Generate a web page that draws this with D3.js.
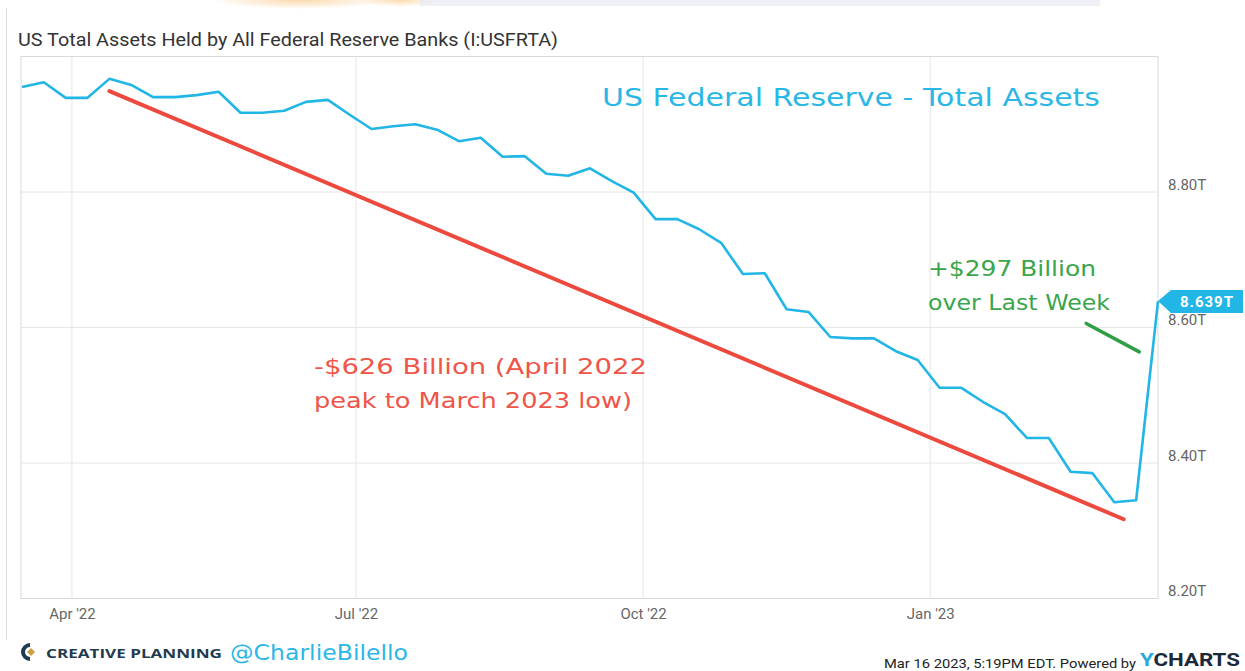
<!DOCTYPE html>
<html>
<head>
<meta charset="utf-8">
<script src="https://cdn.jsdelivr.net/npm/d3@7"></script>
<style>
  body { margin: 0; background: #fff; }
  svg { display: block; }
</style>
</head>
<body>
<svg width="1245" height="671"></svg>
<script>
// weekly Wednesday readings (H.4.1), trillions
const dates = ["2022-03-16","2022-03-23","2022-03-30","2022-04-06","2022-04-13","2022-04-20","2022-04-27",
  "2022-05-04","2022-05-11","2022-05-18","2022-05-25","2022-06-01","2022-06-08","2022-06-15","2022-06-22","2022-06-29",
  "2022-07-06","2022-07-13","2022-07-20","2022-07-27","2022-08-03","2022-08-10","2022-08-17","2022-08-24","2022-08-31",
  "2022-09-07","2022-09-14","2022-09-21","2022-09-28","2022-10-05","2022-10-12","2022-10-19","2022-10-26",
  "2022-11-02","2022-11-09","2022-11-16","2022-11-23","2022-11-30","2022-12-07","2022-12-14","2022-12-21","2022-12-28",
  "2023-01-04","2023-01-11","2023-01-18","2023-01-25","2023-02-01","2023-02-08","2023-02-15","2023-02-22",
  "2023-03-01","2023-03-08","2023-03-15"]
const assets = [8.955, 8.962, 8.939, 8.939, 8.967, 8.958, 8.940, 8.940, 8.943, 8.948,
  8.917, 8.917, 8.920, 8.933, 8.936, 8.914, 8.893, 8.897, 8.900, 8.892,
  8.875, 8.880, 8.852, 8.853, 8.827, 8.824, 8.835, 8.816, 8.799, 8.760,
  8.760, 8.745, 8.725, 8.679, 8.680, 8.627, 8.623, 8.586, 8.584, 8.584,
  8.565, 8.552, 8.511, 8.511, 8.490, 8.472, 8.437, 8.437, 8.387, 8.385,
  8.342, 8.345, 8.639]

const yTicks = [8.2, 8.4, 8.6, 8.8]
const xTicks = ["2022-04-01", "2022-07-01", "2022-10-01", "2023-01-01"]

// hand drawn annotation strokes (date, value)
const redLine = [["2022-04-13", 8.949], ["2023-03-04", 8.317]]
const greenLine = [["2023-02-20", 8.606], ["2023-03-09", 8.564]]

const parse = d3.timeParse("%Y-%m-%d")
const data = dates.map((d, i) => ({date: parse(d), value: assets[i]}))

const svg = d3.select("svg")
const plot = {left: 21, right: 1158, top: 56.5, bottom: 598.5}

const blue = "#22b6e7"

svg.append("rect").attr("width", 1245).attr("height", 671).attr("fill", "#fff")

// faint bits of the cropped header above
const defs = svg.append("defs")
const grad = defs.append("radialGradient").attr("id", "glow")
grad.append("stop").attr("offset", "0%").attr("stop-color", "#f8c98a").attr("stop-opacity", 0.7)
grad.append("stop").attr("offset", "100%").attr("stop-color", "#f8c98a").attr("stop-opacity", 0)
svg.append("ellipse").attr("cx", 300).attr("cy", 0).attr("rx", 90).attr("ry", 9).attr("fill", "url(#glow)")
svg.append("ellipse").attr("cx", 400).attr("cy", 0).attr("rx", 40).attr("ry", 7).attr("fill", "url(#glow)")
svg.append("rect").attr("x", 420).attr("y", 0).attr("width", 680).attr("height", 6).attr("fill", "#e4e8f2").attr("opacity", 0.6)

// outer frame line on the left
svg.append("line").attr("x1", 6.5).attr("x2", 6.5).attr("y1", 8).attr("y2", 640)
  .attr("stroke", "#dcdcdc").attr("stroke-width", 1)

svg.append("text")
  .attr("x", 18)
  .attr("y", 46)
  .attr("font-family", "Roboto, sans-serif")
  .attr("font-size", "19px")
  .attr("fill", "#333")
  .attr("textLength", 540)
  .attr("lengthAdjust", "spacingAndGlyphs")
  .text("US Total Assets Held by All Federal Reserve Banks (I:USFRTA)")

const x = d3.scaleTime()
  .domain([parse("2022-03-16"), parse("2023-03-15")])
  .range([plot.left + 1, plot.right])

const y = d3.scaleLinear()
  .domain([8.2, 9.0])
  .range([plot.bottom, plot.top])

// grid
svg.append("g")
  .selectAll("line")
  .data(yTicks.slice(1))
  .enter()
  .append("line")
  .attr("x1", plot.left).attr("x2", plot.right)
  .attr("y1", d => y(d)).attr("y2", d => y(d))
  .attr("stroke", "#e6e6e6")

svg.append("g")
  .selectAll("line")
  .data(xTicks)
  .enter()
  .append("line")
  .attr("x1", d => x(parse(d))).attr("x2", d => x(parse(d)))
  .attr("y1", plot.top).attr("y2", plot.bottom)
  .attr("stroke", "#e6e6e6")

svg.append("rect")
  .attr("x", plot.left).attr("y", plot.top)
  .attr("width", plot.right - plot.left).attr("height", plot.bottom - plot.top)
  .attr("fill", "none").attr("stroke", "#d9d9d9")

// axes
const yAxis = d3.axisRight(y)
  .tickValues(yTicks)
  .tickSize(0)
  .tickPadding(10)
  .tickFormat(d => d3.format(".2f")(d) + "T")

const gy = svg.append("g")
  .attr("transform", `translate(${plot.right},0)`)
  .call(yAxis)
gy.select(".domain").remove()
gy.selectAll("text")
  .attr("dy", "-0.2em")
  .attr("font-family", "Roboto, sans-serif")
  .attr("font-size", "15px")
  .attr("fill", "#666")

const xAxis = d3.axisBottom(x)
  .tickValues(xTicks.map(parse))
  .tickSize(0)
  .tickPadding(10)
  .tickFormat(d3.timeFormat("%b '%y"))

const gx = svg.append("g")
  .attr("transform", `translate(0,${plot.bottom})`)
  .call(xAxis)
gx.select(".domain").remove()
gx.selectAll("text")
  .attr("font-family", "Roboto, sans-serif")
  .attr("font-size", "15px")
  .attr("fill", "#666")

// series
const line = d3.line()
  .x(d => x(d.date))
  .y(d => y(d.value))

svg.append("path")
  .datum(data)
  .attr("d", line)
  .attr("fill", "none")
  .attr("stroke", blue)
  .attr("stroke-width", 2.6)
  .attr("stroke-linejoin", "round")

// last value tag
const last = data[data.length - 1]
const tx = x(last.date), ty = y(last.value)
svg.append("path")
  .attr("d", `M${tx},${ty} L${tx + 13},${ty - 11} L${tx + 85},${ty - 11} L${tx + 85},${ty + 12} L${tx + 13},${ty + 12} Z`)
  .attr("fill", blue)
svg.append("text")
  .attr("x", tx + 49)
  .attr("y", ty + 6)
  .attr("text-anchor", "middle")
  .attr("font-family", "Roboto, sans-serif")
  .attr("font-weight", "bold")
  .attr("font-size", "15px")
  .attr("letter-spacing", "1px")
  .attr("fill", "#fff")
  .text(d3.format(".3f")(last.value) + "T")

// annotations
const annLine = d3.line()
  .x(d => x(parse(d[0])))
  .y(d => y(d[1]))

svg.append("path")
  .attr("d", annLine(redLine))
  .attr("stroke", "#ec4a3e")
  .attr("stroke-width", 4)
  .attr("stroke-linecap", "round")

svg.append("path")
  .attr("d", annLine(greenLine))
  .attr("stroke", "#2f9e45")
  .attr("stroke-width", 3.5)
  .attr("stroke-linecap", "round")

const hand = "'DejaVu Sans', sans-serif"

function note(txt, x0, y0, w, size, color) {
  svg.append("text")
    .attr("x", x0)
    .attr("y", y0)
    .attr("font-family", hand)
    .attr("font-size", size + "px")
    .attr("fill", color)
    .attr("textLength", w)
    .attr("lengthAdjust", "spacingAndGlyphs")
    .text(txt)
}

note("US Federal Reserve - Total Assets", 602, 106, 498, 25, "#2bb7e6")
note("+$297 Billion", 928, 276, 168, 21, "#3aa54c")
note("over Last Week", 928, 310, 182, 21, "#3aa54c")
note("-$626 Billion (April 2022", 314, 374, 333, 21, "#ef5548")
note("peak to March 2023 low)", 314, 408, 318, 21, "#ef5548")

// footer
const logo = svg.append("g").attr("transform", "translate(22,643)")
logo.append("path").attr("d", "M8,0 A9,9 0 1,0 8,18 L8,14 A5,5 0 1,1 8,4 Z").attr("fill", "#1f3b4f")
logo.append("path").attr("d", "M9,5 L13,9 L9,13 L5,9 Z").attr("fill", "#c9a046")

svg.append("text")
  .attr("x", 46)
  .attr("y", 658)
  .attr("font-family", "'Open Sans', sans-serif")
  .attr("font-weight", "bold")
  .attr("font-size", "12.5px")
  .attr("fill", "#1f3b4f")
  .attr("textLength", 176)
  .attr("lengthAdjust", "spacingAndGlyphs")
  .text("CREATIVE PLANNING")

note("@CharlieBilello", 230, 660, 178, 21, "#2bb7e6")

svg.append("text")
  .attr("x", 884)
  .attr("y", 668)
  .attr("font-family", "Roboto, sans-serif")
  .attr("font-size", "13px")
  .attr("fill", "#222")
  .attr("textLength", 252)
  .attr("lengthAdjust", "spacingAndGlyphs")
  .text("Mar 16 2023, 5:19PM EDT.  Powered by")

const yc = svg.append("text")
  .attr("x", 1140)
  .attr("y", 666)
  .attr("font-family", "Roboto, sans-serif")
  .attr("font-weight", "bold")
  .attr("font-size", "19px")
  .attr("textLength", 100)
  .attr("lengthAdjust", "spacingAndGlyphs")
yc.append("tspan").attr("fill", "#29a9e0").text("Y")
yc.append("tspan").attr("fill", "#1b2a3a").text("CHARTS")
</script>
</body>
</html>
